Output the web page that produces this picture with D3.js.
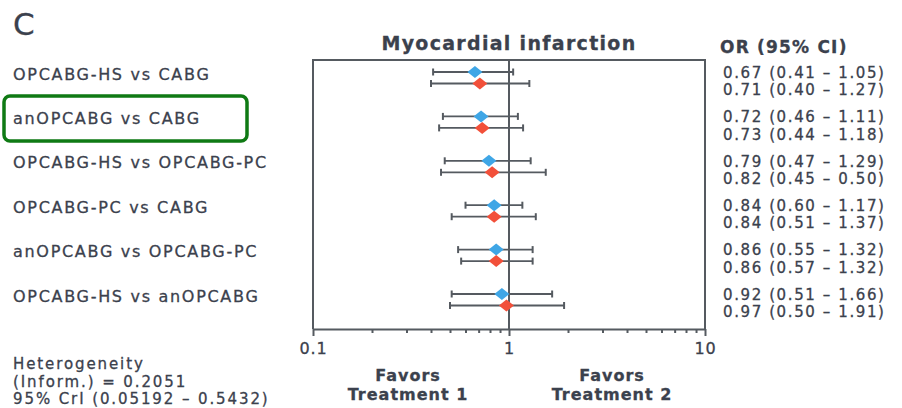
<!DOCTYPE html>
<html>
<head>
<meta charset="utf-8">
<script src="https://cdn.jsdelivr.net/npm/d3@7"></script>
<style>
  html, body { margin: 0; padding: 0; background: #fff; }
  svg text { font-family: "DejaVu Sans", sans-serif; fill: #3b414d; stroke: #3b414d; stroke-width: 0.3px; }
</style>
</head>
<body>
<svg id="chart" width="902" height="408"></svg>
<script>
// Pairwise comparisons for myocardial infarction (odds ratios, log scale)
const comparisons = [
  "OPCABG-HS vs CABG",
  "anOPCABG vs CABG",
  "OPCABG-HS vs OPCABG-PC",
  "OPCABG-PC vs CABG",
  "anOPCABG vs OPCABG-PC",
  "OPCABG-HS vs anOPCABG"
];
// First estimate per comparison (blue)
const orA = [0.67, 0.72, 0.79, 0.84, 0.86, 0.92];
const loA = [0.41, 0.46, 0.47, 0.60, 0.55, 0.51];
const hiA = [1.05, 1.11, 1.29, 1.17, 1.32, 1.66];
// Second estimate per comparison (red)
const orB = [0.71, 0.73, 0.82, 0.84, 0.86, 0.97];
const loB = [0.40, 0.44, 0.45, 0.51, 0.57, 0.50];
const hiB = [1.27, 1.18, 1.54, 1.37, 1.32, 1.91];
// Printed interval text
const ciTextA = ["0.67 (0.41 – 1.05)", "0.72 (0.46 – 1.11)", "0.79 (0.47 – 1.29)",
                 "0.84 (0.60 – 1.17)", "0.86 (0.55 – 1.32)", "0.92 (0.51 – 1.66)"];
const ciTextB = ["0.71 (0.40 – 1.27)", "0.73 (0.44 – 1.18)", "0.82 (0.45 – 0.50)",
                 "0.84 (0.51 – 1.37)", "0.86 (0.57 – 1.32)", "0.97 (0.50 – 1.91)"];
const majorTicks = [0.1, 1, 10];
const tickLabels = ["0.1", "1", "10"];
const heterogeneity = ["Heterogeneity", "(Inform.) = 0.2051", "95% CrI (0.05192 – 0.5432)"];

const svg = d3.select("#chart");
const colA = "#3fa6e6", colB = "#f2503a", ink = "#555a60";

const box = { left: 313, right: 705, top: 60, bottom: 329 };
const x = d3.scaleLog().domain([0.1, 10]).range([box.left, box.right]);
const y = d3.scalePoint().domain(comparisons).range([72, 294]);
const offB = 11.5;

// Panel letter
svg.append("text").attr("x", 13).attr("y", 35)
  .style("font-size", "31px").text("C");

// Title and column header
svg.append("text").attr("x", 509).attr("y", 50).attr("text-anchor", "middle")
  .style("font-size", "19px").style("font-weight", "bold").style("letter-spacing", "1.3px")
  .text("Myocardial infarction");
svg.append("text").attr("x", 720).attr("y", 53)
  .style("font-size", "17px").style("font-weight", "bold").style("letter-spacing", "1.2px")
  .text("OR (95% CI)");

// Frame: left, top, right borders
svg.append("path")
  .attr("d", `M${box.left},${box.bottom}V${box.top}H${box.right}V${box.bottom}`)
  .attr("fill", "none").attr("stroke", ink).attr("stroke-width", 2);

// Log axis with major and minor ticks
const allTicks = [];
[0.1, 1].forEach(d => { for (let k = 1; k <= 9; k++) allTicks.push(+(d * k).toFixed(2)); });
allTicks.push(10);
const axis = d3.axisBottom(x).tickValues(allTicks).tickSizeOuter(0)
  .tickFormat(d => { const i = majorTicks.indexOf(d); return i >= 0 ? tickLabels[i] : ""; });
const gAxis = svg.append("g").attr("transform", `translate(0,${box.bottom})`).call(axis);
gAxis.select(".domain").attr("stroke", ink).attr("stroke-width", 2);
gAxis.selectAll(".tick line").attr("stroke", ink).attr("stroke-width", 2)
  .attr("y2", d => majorTicks.includes(d) ? 7 : 4);
gAxis.selectAll(".tick text").attr("y", 14).attr("dy", "0.71em")
  .style("font-size", "16px").style("font-family", "'DejaVu Sans', sans-serif")
  .attr("fill", "#3b414d").style("letter-spacing", "0.8px");

// Reference line at OR = 1
svg.append("line").attr("x1", x(1)).attr("x2", x(1))
  .attr("y1", box.top).attr("y2", box.bottom)
  .attr("stroke", ink).attr("stroke-width", 2);

// Highlight box around the second comparison label
svg.append("rect").attr("x", 4).attr("y", 96).attr("width", 243).attr("height", 45)
  .attr("rx", 6).attr("fill", "none").attr("stroke", "#0f7a14").attr("stroke-width", 3.5);

// Comparison labels
svg.append("g").selectAll("text").data(comparisons).join("text")
  .attr("x", 13).attr("y", d => y(d) + 2).attr("dy", "0.35em")
  .style("font-size", "16px").style("letter-spacing", "1.7px")
  .text(d => d);

// Interval labels (two stacked lines per comparison)
const ciG = svg.append("g").style("font-size", "15px").style("letter-spacing", "1.6px");
ciG.selectAll("text.a").data(comparisons).join("text").attr("class", "a")
  .attr("x", 723).attr("y", d => y(d) + 0.5).attr("dy", "0.35em")
  .text((d, i) => ciTextA[i]);
ciG.selectAll("text.b").data(comparisons).join("text").attr("class", "b")
  .attr("x", 723).attr("y", d => y(d) + 18).attr("dy", "0.35em")
  .text((d, i) => ciTextB[i]);

// Error bars and diamond markers
function drawSeries(or, lo, hi, dy, color) {
  const g = svg.append("g");
  const rows = comparisons.map((c, i) => ({ c, or: or[i], lo: lo[i], hi: hi[i], y: y(c) + dy }));
  g.selectAll("line.ci").data(rows).join("line").attr("class", "ci")
    .attr("x1", d => x(d.lo)).attr("x2", d => x(d.hi))
    .attr("y1", d => d.y).attr("y2", d => d.y)
    .attr("stroke", ink).attr("stroke-width", 1.8);
  ["lo", "hi"].forEach(k => {
    g.selectAll("line.cap" + k).data(rows).join("line").attr("class", "cap" + k)
      .attr("x1", d => x(d[k])).attr("x2", d => x(d[k]))
      .attr("y1", d => d.y - 3.5).attr("y2", d => d.y + 3.5)
      .attr("stroke", ink).attr("stroke-width", 2);
  });
  g.selectAll("path.pt").data(rows).join("path").attr("class", "pt")
    .attr("d", d => `M${x(d.or) - 7.5},${d.y}L${x(d.or)},${d.y - 6}L${x(d.or) + 7.5},${d.y}L${x(d.or)},${d.y + 6}Z`)
    .attr("fill", color);
}
drawSeries(orA, loA, hiA, 0, colA);
drawSeries(orB, loB, hiB, offB, colB);

// Favors annotations
const fav = svg.append("g").style("font-size", "16px").style("font-weight", "bold")
  .style("letter-spacing", "1px").attr("text-anchor", "middle");
[[408, "Treatment 1"], [612, "Treatment 2"]].forEach(([cx, t]) => {
  fav.append("text").attr("x", cx).attr("y", 381).text("Favors");
  fav.append("text").attr("x", cx).attr("y", 400).text(t);
});

// Heterogeneity note
svg.append("g").selectAll("text").data(heterogeneity).join("text")
  .attr("x", 13).attr("y", (d, i) => 364 + i * 17.5).attr("dy", "0.35em")
  .style("font-size", "15px").style("letter-spacing", "1.9px")
  .text(d => d);
</script>
</body>
</html>
